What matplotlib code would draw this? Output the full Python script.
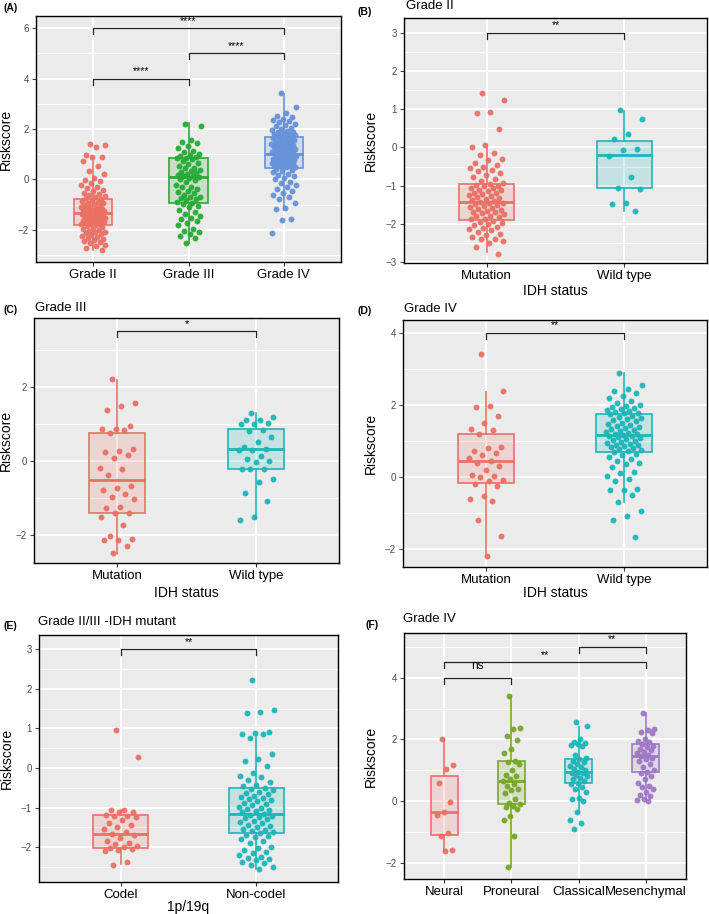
import numpy as np
import matplotlib
matplotlib.use("Agg")
import matplotlib.pyplot as plt

plt.rcParams['font.family'] = ['Liberation Sans', 'DejaVu Sans']

# ---------------- data ----------------
# Panel A
A_cats = ["Grade II", "Grade III", "Grade IV"]
A_g2 = [1.42, 1.37, 1.28, 0.96, 0.91, 0.88, 0.74, 0.52, 0.34, 0.21, 0.05, -0.02, -0.07, -0.14, -0.21, -0.28, -0.33, -0.41, -0.45, -0.52, -0.57, -0.61, -0.66, -0.71, -0.74,
        -0.78, -0.82, -0.85, -0.89, -0.92, -0.94, -0.98, -1.01, -1.04, -1.06, -1.09, -1.11, -1.13, -1.16, -1.19, -1.2, -1.22, -1.24, -1.26, -1.27, -1.29, -1.3, -1.32,
        -1.35, -1.36, -1.39, -1.41, -1.43, -1.45, -1.47, -1.5, -1.52, -1.54, -1.57, -1.58, -1.61, -1.63, -1.66, -1.67, -1.69, -1.72, -1.73, -1.75, -1.77, -1.78, -1.8,
        -1.84, -1.88, -1.93, -1.96, -1.99, -2.03, -2.07, -2.1, -2.13, -2.17, -2.2, -2.24, -2.27, -2.31, -2.36, -2.38, -2.42, -2.47, -2.53, -2.58, -2.64, -2.71, -2.79]
A_g3 = [2.21, 2.12, 1.56, 1.48, 1.43, 1.31, 1.26, 1.12, 1.08, 1.03, 0.98, 0.94, 0.9, 0.87, 0.84, 0.8, 0.72, 0.66, 0.61, 0.55, 0.47, 0.45, 0.38, 0.32, 0.3, 0.27,
        0.22, 0.17, 0.15, 0.12, 0.1, 0.05, 0.0, -0.02, -0.1, -0.2, -0.28, -0.31, -0.38, -0.45, -0.5, -0.55, -0.6, -0.68, -0.7, -0.75, -0.78, -0.82, -0.88, -0.93,
        -0.98, -1.05, -1.1, -1.22, -1.3, -1.38, -1.45, -1.51, -1.58, -1.65, -1.72, -1.8, -1.95, -2.05, -2.1, -2.16, -2.22, -2.3, -2.5]
A_g4 = [3.42, 2.86, 2.62, 2.52, 2.46, 2.4, 2.36, 2.31, 2.26, 2.2, 2.15, 2.11, 2.05, 2.01, 1.97, 1.93, 1.9, 1.87, 1.85, 1.82, 1.8, 1.78, 1.75, 1.73, 1.72, 1.7,
        1.66, 1.63, 1.61, 1.57, 1.55, 1.52, 1.5, 1.47, 1.45, 1.42, 1.4, 1.37, 1.35, 1.32, 1.3, 1.27, 1.25, 1.22, 1.2, 1.18, 1.15, 1.13, 1.1, 1.08, 1.06, 1.04, 1.02,
        0.99, 0.97, 0.95, 0.93, 0.91, 0.89, 0.87, 0.85, 0.83, 0.8, 0.78, 0.76, 0.74, 0.72, 0.7, 0.68, 0.66, 0.64, 0.62, 0.6, 0.58, 0.56, 0.54, 0.52, 0.5, 0.48,
        0.42, 0.38, 0.33, 0.28, 0.22, 0.17, 0.12, 0.05, 0.0, -0.08, -0.15, -0.22, -0.3, -0.38, -0.45, -0.55, -0.62, -0.7, -0.78, -0.95, -1.12, -1.15, -1.58, -1.62, -2.13]
A_box = {"q1": [-1.8, -0.92, 0.46], "med": [-1.34, 0.11, 1.02], "q3": [-0.77, 0.84, 1.68],
         "lo": [-2.79, -2.5, -1.2], "hi": [0.72, 2.22, 3.38]}

# Panel B
B_cats = ["Mutation", "Wild type"]
B_mut = [1.42, 1.25, 0.93, 0.9, 0.48, 0.05, 0.0, -0.15, -0.2, -0.3, -0.33, -0.4, -0.45, -0.5, -0.55, -0.6, -0.62, -0.68, -0.72, -0.78, -0.82, -0.88, -0.92,
         -0.96, -0.98, -1.0, -1.02, -1.05, -1.07, -1.1, -1.12, -1.15, -1.18, -1.2, -1.22, -1.25, -1.28, -1.3, -1.33, -1.35, -1.38, -1.4, -1.42, -1.44, -1.46,
         -1.48, -1.5, -1.53, -1.55, -1.58, -1.6, -1.63, -1.65, -1.68, -1.7, -1.72, -1.75, -1.78, -1.8, -1.83, -1.86, -1.88,
         -1.92, -1.95, -1.98, -2.0, -2.03, -2.07, -2.1, -2.12, -2.15, -2.2, -2.25, -2.3, -2.35, -2.38, -2.4, -2.45, -2.5, -2.6, -2.78]
B_wt = [0.97, 0.75, 0.35, 0.22, -0.04, -0.08, -0.23, -0.77, -1.05, -1.08, -1.46, -1.48, -1.67]
B_box = {"q1": [-1.9, -1.07], "med": [-1.43, -0.2], "q3": [-0.95, 0.16], "lo": [-2.73, -1.67], "hi": [0.02, 0.96]}

# Panel C
C_mut = [2.2, 1.57, 1.47, 1.38, 0.93, 0.87, 0.87, 0.83, 0.74, 0.33, 0.27, 0.24, 0.17, 0.08, -0.18, -0.22, -0.37, -0.68, -0.74, -0.79, -0.9, -0.98,
         -1.02, -1.24, -1.28, -1.42, -1.42, -1.53, -1.73, -2.04, -2.1, -2.13, -2.15, -2.31, -2.49]
C_wt = [1.3, 1.18, 1.11, 1.11, 1.03, 0.99, 0.99, 0.83, 0.81, 0.65, 0.51, 0.38, 0.32, 0.3, 0.29, 0.13, 0.04, 0.0, -0.04, -0.22, -0.22, -0.22,
        -0.48, -0.58, -0.88, -1.09, -1.52, -1.6]
C_box = {"q1": [-1.42, -0.22], "med": [-0.52, 0.31], "q3": [0.76, 0.87], "lo": [-2.52, -1.58], "hi": [2.19, 1.28]}

# Panel D
D_mut = [3.41, 2.38, 1.98, 1.93, 1.69, 1.51, 1.34, 1.3, 1.2, 0.83, 0.81, 0.72, 0.68, 0.6, 0.54, 0.44, 0.39, 0.32, 0.19, 0.05, 0.02, 0.0,
         -0.09, -0.11, -0.2, -0.24, -0.53, -0.61, -0.67, -1.18, -1.62, -2.18]
D_wt = [2.87, 2.55, 2.43, 2.38, 2.32, 2.25, 2.2, 2.12, 2.05, 2.0, 1.97, 1.93, 1.9, 1.88, 1.85, 1.82, 1.8, 1.78, 1.77,
        1.74, 1.7, 1.67, 1.63, 1.6, 1.57, 1.54, 1.51, 1.48, 1.45, 1.42, 1.4, 1.37, 1.34, 1.31, 1.28, 1.26, 1.23, 1.2, 1.18, 1.17,
        1.15, 1.13, 1.1, 1.08, 1.06, 1.03, 1.0, 0.98, 0.95, 0.92, 0.9, 0.88, 0.85, 0.82, 0.8, 0.77, 0.75, 0.72, 0.7,
        0.65, 0.6, 0.55, 0.5, 0.45, 0.4, 0.35, 0.27, 0.15, 0.1, 0.03, -0.05, -0.1, -0.33, -0.35, -0.37, -0.49, -0.69, -0.94, -1.08, -1.18, -1.65]
D_box = {"q1": [-0.17, 0.69], "med": [0.44, 1.16], "q3": [1.2, 1.76], "lo": [-2.15, -0.69], "hi": [2.36, 2.87]}

# Panel E
E_cats = ["Codel", "Non-codel"]
E_cod = [0.96, 0.28, -1.05, -1.07, -1.1, -1.12, -1.18, -1.2, -1.22, -1.25, -1.32, -1.4, -1.44, -1.5, -1.55, -1.62, -1.66, -1.7, -1.78, -1.85,
         -1.9, -1.93, -1.97, -2.0, -2.03, -2.05, -2.07, -2.1, -2.37, -2.45]
E_non = [2.22, 1.46, 1.42, 1.38, 0.9, 0.88, 0.86, 0.85, 0.75, 0.35, 0.24, 0.18, 0.04, -0.12, -0.2, -0.22, -0.3, -0.35, -0.42, -0.46, -0.5,
         -0.53, -0.56, -0.6, -0.64, -0.66, -0.7, -0.72, -0.75, -0.78, -0.8, -0.84, -0.88, -0.9, -0.94, -0.98, -1.0, -1.03, -1.06, -1.09, -1.12, -1.15,
         -1.18, -1.2, -1.23, -1.26, -1.3, -1.33, -1.36, -1.4, -1.43, -1.46, -1.5, -1.53, -1.56, -1.6, -1.62, -1.64,
         -1.68, -1.72, -1.75, -1.8, -1.85, -1.9, -2.0, -2.03, -2.08, -2.12, -2.15, -2.2, -2.25, -2.28, -2.3, -2.32, -2.38, -2.4, -2.45, -2.5, -2.55]
E_box = {"q1": [-2.02, -1.65], "med": [-1.66, -1.16], "q3": [-1.18, -0.51], "lo": [-2.42, -2.55], "hi": [-1.05, 0.8]}

# Panel F
F_cats = ["Neural", "Proneural", "Classical", "Mesenchymal"]
F_neu = [2.0, 1.18, 1.03, 0.57, -0.03, -0.35, -0.47, -1.05, -1.13, -1.6, -1.63]
F_pro = [3.42, 2.38, 2.32, 2.12, 1.98, 1.68, 1.55, 1.3, 1.25, 1.2, 1.0, 0.85, 0.8, 0.7, 0.65, 0.55, 0.5, 0.4, 0.35, 0.25, 0.05, -0.05,
         -0.1, -0.15, -0.2, -0.25, -0.5, -0.62, -1.15, -2.15]
F_cla = [2.55, 2.42, 2.0, 1.9, 1.88, 1.85, 1.82, 1.8, 1.5, 1.4, 1.35, 1.3, 1.25, 1.2, 1.15, 1.1, 1.05, 1.0, 0.95, 0.92, 0.9, 0.85, 0.8, 0.75,
         0.7, 0.65, 0.6, 0.55, 0.45, 0.38, 0.3, 0.1, 0.05, 0.0, -0.35, -0.6, -0.72, -0.92]
F_mes = [2.87, 2.35, 2.3, 2.25, 2.2, 2.0, 1.95, 1.9, 1.85, 1.8, 1.75, 1.7, 1.65, 1.6, 1.55, 1.5, 1.45, 1.4, 1.35, 1.3, 1.2, 1.1, 1.0, 0.95,
         0.9, 0.8, 0.7, 0.6, 0.5, 0.45, 0.4, 0.3, 0.2, 0.15, 0.05, 0.02, 0.0]
F_box = {"q1": [-1.1, -0.09, 0.59, 0.95], "med": [-0.35, 0.66, 0.95, 1.46], "q3": [0.81, 1.31, 1.36, 1.84],
         "lo": [-1.59, -2.13, -0.31, 0.03], "hi": [2.0, 3.4, 2.41, 2.86]}

# significance brackets: (group i, group j, y, label)
A_sig = [(1, 2, 4.0, "****"), (2, 3, 5.0, "****"), (1, 3, 6.0, "****")]
B_sig = [(1, 2, 3.0, "**")]
C_sig = [(1, 2, 3.5, "*")]
D_sig = [(1, 2, 4.0, "**")]
E_sig = [(1, 2, 3.0, "**")]
F_sig = [(1, 2, 4.0, "ns"), (1, 4, 4.5, "**"), (3, 4, 5.0, "**")]

RED = "#EC7064"
GREEN = "#27AA35"
BLUE = "#6592D8"
TEAL = "#1DB5B8"
OLIVE = "#78A72A"
PURPLE = "#9E78C4"

W, H = 709, 914
fig = plt.figure(figsize=(W / 100, H / 100), dpi=100)


def make_ax(l, t, r, b):
    return fig.add_axes([l / W, 1 - b / H, (r - l) / W, (b - t) / H])


def jitter(n, w=0.13):
    k = np.arange(n)
    return ((k * 0.6180339887 + 0.37) % 1.0 - 0.5) * 2 * w


def panel(ax, cats, groups, colors, box, ylim, yticks, yminor, sig, xlabel=None):
    ax.set_facecolor("#EBEBEB")
    n = len(cats)
    pos = np.arange(1, n + 1)
    ax.set_xlim(0.4, n + 0.6)
    ax.set_ylim(*ylim)
    for y in yminor:
        ax.axhline(y, color="white", lw=0.8, zorder=0)
    for y in yticks:
        ax.axhline(y, color="white", lw=1.5, zorder=0)
    for x in pos:
        ax.axvline(x, color="white", lw=1.5, zorder=0)
    for i, (vals, c) in enumerate(zip(groups, colors)):
        v = np.asarray(vals, float)
        ax.scatter(pos[i] + jitter(len(v)), v, s=18, color=c, lw=0, zorder=2, alpha=0.95)
    stats = []
    for i in range(n):
        stats.append(dict(med=box["med"][i], q1=box["q1"][i], q3=box["q3"][i],
                          whislo=box["lo"][i], whishi=box["hi"][i], fliers=[]))
    bp = ax.bxp(stats, positions=pos, widths=0.4, patch_artist=True, showcaps=False,
                showfliers=False, manage_ticks=False, zorder=3)
    for i, c in enumerate(colors):
        bp["boxes"][i].set(facecolor=matplotlib.colors.to_rgba(c, 0.18), edgecolor=c, lw=1.2)
        bp["medians"][i].set(color=c, lw=2.0)
        bp["whiskers"][2 * i].set(color=c, lw=1.2)
        bp["whiskers"][2 * i + 1].set(color=c, lw=1.2)
    span = ylim[1] - ylim[0]
    for (a, b_, y, lab) in sig:
        tip = 0.025 * span
        ax.plot([a, a, b_, b_], [y - tip, y, y, y - tip], color="#222222", lw=0.9, zorder=4)
        fs = 8.5 if lab == "ns" else 7.5
        off = 0.025 * span if lab == "ns" else 0.01 * span
        ax.text((a + b_) / 2, y + off, lab, ha="center", va="bottom", fontsize=fs, zorder=5)
    ax.set_xticks(pos)
    ax.set_xticklabels(cats, fontsize=9.5, color="black")
    ax.set_yticks(yticks)
    ax.set_yticklabels([f"{t:g}".replace("-", "\u2212") for t in yticks])
    ax.tick_params(axis="y", labelsize=7, colors="#4D4D4D", length=3, width=0.8, pad=2)
    ax.tick_params(axis="x", length=3, width=0.8, color="#333333", pad=2)
    for s in ax.spines.values():
        s.set_color("black")
        s.set_linewidth(1.0)
    ax.set_ylabel("Riskscore", fontsize=10)
    if xlabel:
        ax.set_xlabel(xlabel, fontsize=10)
    return ax


def figtext(x, y, s, **kw):
    fig.text(x / W, 1 - y / H, s, **kw)


# A
axA = make_ax(36, 16, 341, 262)
panel(axA, A_cats, [A_g2, A_g3, A_g4], [RED, GREEN, BLUE], A_box, (-3.27, 6.48),
      [-2, 0, 2, 4, 6], [-3, -1, 1, 3, 5], A_sig)
figtext(3, 8, "(A)", fontsize=7.5, fontweight="bold", va="center")

# B
axB = make_ax(404, 18, 707, 263)
panel(axB, B_cats, [B_mut, B_wt], [RED, TEAL], B_box, (-3.02, 3.38),
      [-3, -2, -1, 0, 1, 2, 3], [-2.5, -1.5, -0.5, 0.5, 1.5, 2.5], B_sig, xlabel="IDH status")
figtext(357, 12, "(B)", fontsize=7.5, fontweight="bold", va="center")
figtext(406, 6, "Grade II", fontsize=9.5, va="center")

# C
axC = make_ax(34, 318, 339, 563)
panel(axC, B_cats, [C_mut, C_wt], [RED, TEAL], C_box, (-2.76, 3.86),
      [-2, 0, 2], [-1, 1, 3], C_sig, xlabel="IDH status")
figtext(3, 310, "(C)", fontsize=7.5, fontweight="bold", va="center")
figtext(35, 308, "Grade III", fontsize=9.5, va="center")

# D
axD = make_ax(403, 320, 707, 567)
panel(axD, B_cats, [D_mut, D_wt], [RED, TEAL], D_box, (-2.49, 4.35),
      [-2, 0, 2, 4], [-1, 1, 3], D_sig, xlabel="IDH status")
figtext(357, 311, "(D)", fontsize=7.5, fontweight="bold", va="center")
figtext(404, 309, "Grade IV", fontsize=9.5, va="center")

# E
axE = make_ax(39, 635, 338, 882)
panel(axE, E_cats, [E_cod, E_non], [RED, TEAL], E_box, (-2.88, 3.36),
      [-2, -1, 0, 1, 2, 3], [-2.5, -1.5, -0.5, 0.5, 1.5, 2.5], E_sig, xlabel="1p/19q")
figtext(3, 626, "(E)", fontsize=7.5, fontweight="bold", va="center")
figtext(38, 622, "Grade II/III -IDH mutant", fontsize=9.5, va="center")

# F
axF = make_ax(404, 633, 686, 879)
panel(axF, F_cats, [F_neu, F_pro, F_cla, F_mes], [RED, OLIVE, TEAL, PURPLE], F_box, (-2.53, 5.45),
      [-2, 0, 2, 4], [-1, 1, 3, 5], F_sig)
figtext(366, 625, "(F)", fontsize=7.5, fontweight="bold", va="center")
figtext(403, 619, "Grade IV", fontsize=9.5, va="center")

# y label positions (right edge of rotated label in px)
for ax, xpx in [(axA, 13), (axB, 378), (axC, 13), (axD, 378), (axE, 14), (axF, 378)]:
    bb = ax.get_position()
    ax.yaxis.set_label_coords((xpx / W - bb.x0) / bb.width, 0.5)

# x label positions (top of label in px)
for ax, ypx in [(axB, 284), (axC, 586), (axD, 586), (axE, 900)]:
    bb = ax.get_position()
    ax.xaxis.set_label_coords(0.5, ((1 - ypx / H) - bb.y0) / bb.height)

fig.savefig("out.png", dpi=100, facecolor="white")
